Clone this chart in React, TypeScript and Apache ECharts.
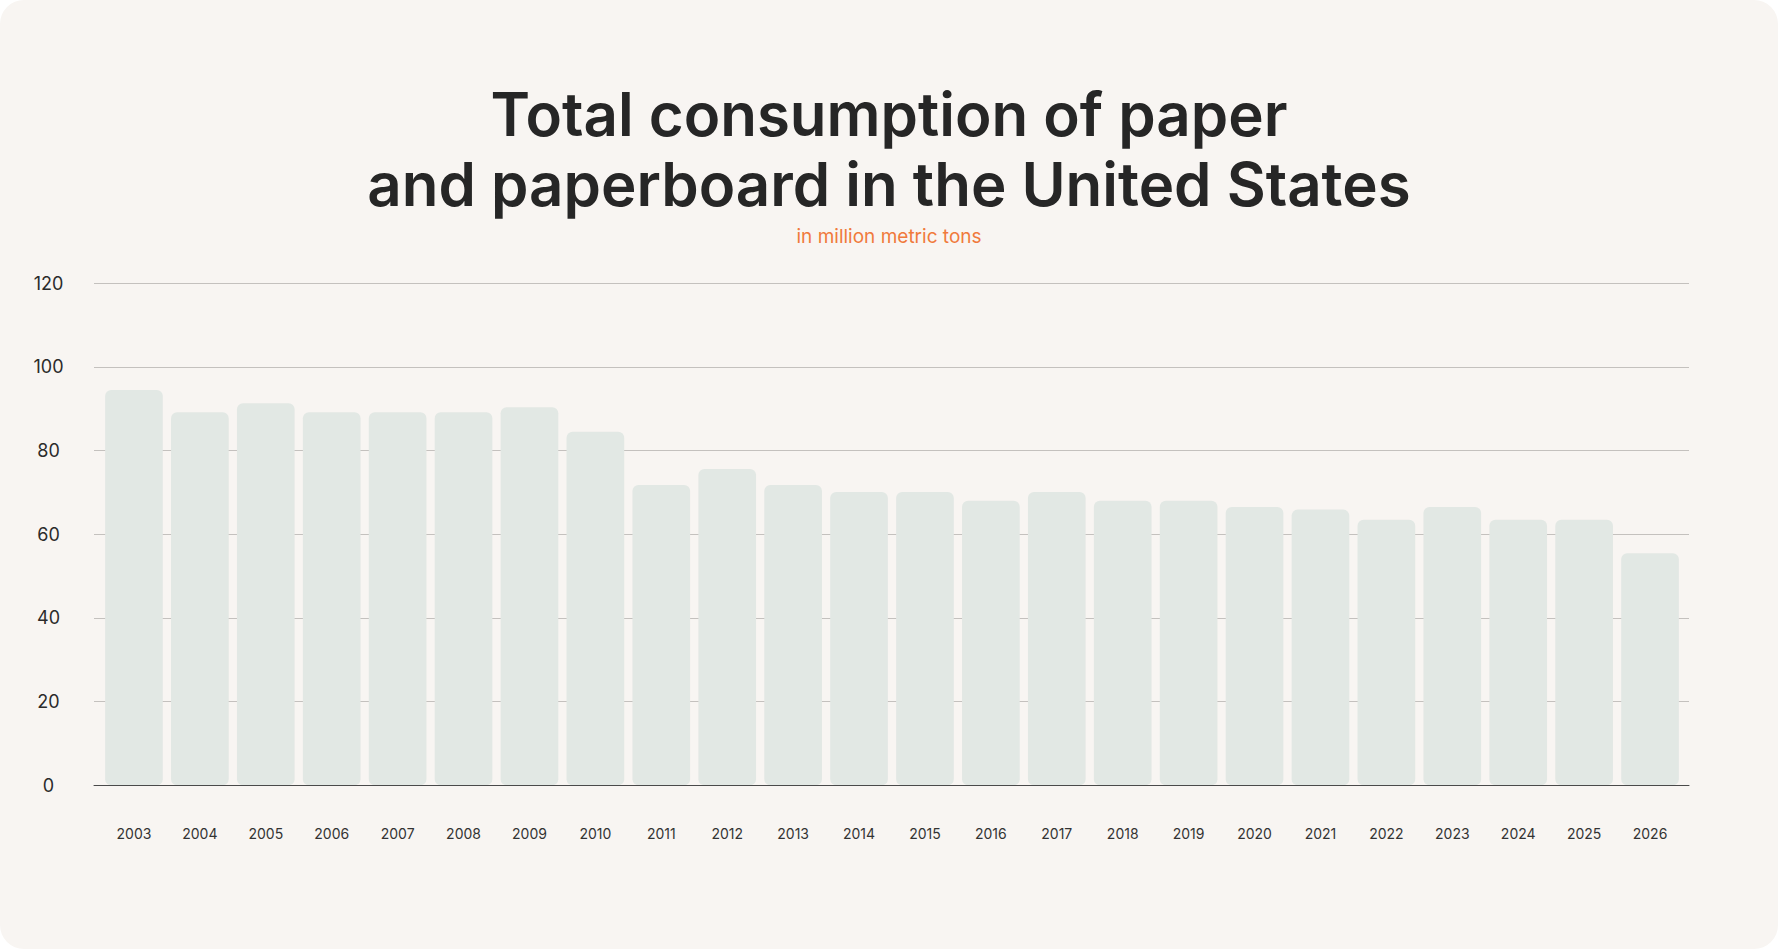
import React, { useEffect, useRef } from "react";
import * as echarts from "echarts";

const years = [
  "2003", "2004", "2005", "2006", "2007", "2008", "2009", "2010", "2011", "2012", "2013", "2014",
  "2015", "2016", "2017", "2018", "2019", "2020", "2021", "2022", "2023", "2024", "2025", "2026",
];
const consumption = [
  94.5, 89.2, 91.3, 89.2, 89.2, 89.2, 90.4, 84.5, 71.8, 75.6, 71.8, 70.1,
  70.1, 68.0, 70.1, 68.0, 68.0, 66.5, 65.9, 63.5, 66.5, 63.5, 63.5, 55.5,
];
const yTicks = { min: 0, max: 120, interval: 20 };
const titleText = "Total consumption of paper\nand paperboard in the United States";
const subtitleText = "in million metric tons";

export default function App() {
  const ref = useRef<HTMLDivElement>(null);
  useEffect(() => {
    document.body.style.margin = "0";
    document.body.style.background = "#ffffff";
    if (!ref.current) return;
    const chart = echarts.init(ref.current, undefined, { renderer: "svg" });
    chart.setOption({
      animation: false,
      backgroundColor: "transparent",
      graphic: [
        {
          type: "text",
          x: 889,
          y: 79,
          silent: true,
          style: {
            text: titleText,
            textAlign: "center",
            textVerticalAlign: "top",
            fontFamily: "Inter",
            fontSize: 60,
            fontWeight: 600,
            fill: "#262626",
            lineHeight: 70,
          },
        },
        {
          type: "text",
          x: 889,
          y: 225,
          silent: true,
          style: {
            text: subtitleText,
            textAlign: "center",
            textVerticalAlign: "top",
            fontFamily: "Inter",
            fontSize: 19,
            fontWeight: 400,
            fill: "#F07A3C",
            lineHeight: 22,
          },
        },
      ],
      grid: [
        { left: 94, right: 89, top: 283.3, bottom: 163.7, containLabel: false },
        { left: 101, right: 95, top: 283.3, bottom: 163.7, containLabel: false },
      ],
      xAxis: [
        {
          type: "category",
          gridIndex: 0,
          data: years,
          axisTick: { show: false },
          axisLabel: { show: false },
          axisLine: { show: true, lineStyle: { color: "#4a4a4a", width: 1 } },
          z: 5,
        },
        {
          type: "category",
          gridIndex: 1,
          data: years,
          axisTick: { show: false },
          axisLine: { show: false },
          axisLabel: {
            interval: 0,
            margin: 41,
            fontFamily: "Inter",
            fontSize: 14,
            color: "#333333",
          },
        },
      ],
      yAxis: [
        {
          type: "value",
          gridIndex: 0,
          min: yTicks.min,
          max: yTicks.max,
          interval: yTicks.interval,
          axisLine: { show: false },
          axisTick: { show: false },
          axisLabel: {
            margin: 45.5,
            align: "center",
            fontFamily: "Inter",
            fontSize: 18,
            color: "#2b2b2b",
          },
          splitLine: { lineStyle: { color: "#c4c1be", width: 1 } },
        },
        {
          type: "value",
          gridIndex: 1,
          min: yTicks.min,
          max: yTicks.max,
          interval: yTicks.interval,
          axisLine: { show: false },
          axisTick: { show: false },
          axisLabel: { show: false },
          splitLine: { show: false },
        },
      ],
      series: [
        {
          type: "bar",
          xAxisIndex: 1,
          yAxisIndex: 1,
          data: consumption,
          barCategoryGap: "12.5%",
          itemStyle: { color: "#E2E8E4", borderRadius: 6 },
          emphasis: { disabled: true },
        },
      ],
    });
    return () => chart.dispose();
  }, []);
  return (
    <div
      style={{
        width: 1778,
        height: 949,
        background: "#F8F5F2",
        borderRadius: 24,
        overflow: "hidden",
      }}
    >
      <div ref={ref} style={{ width: 1778, height: 949 }} />
    </div>
  );
}
